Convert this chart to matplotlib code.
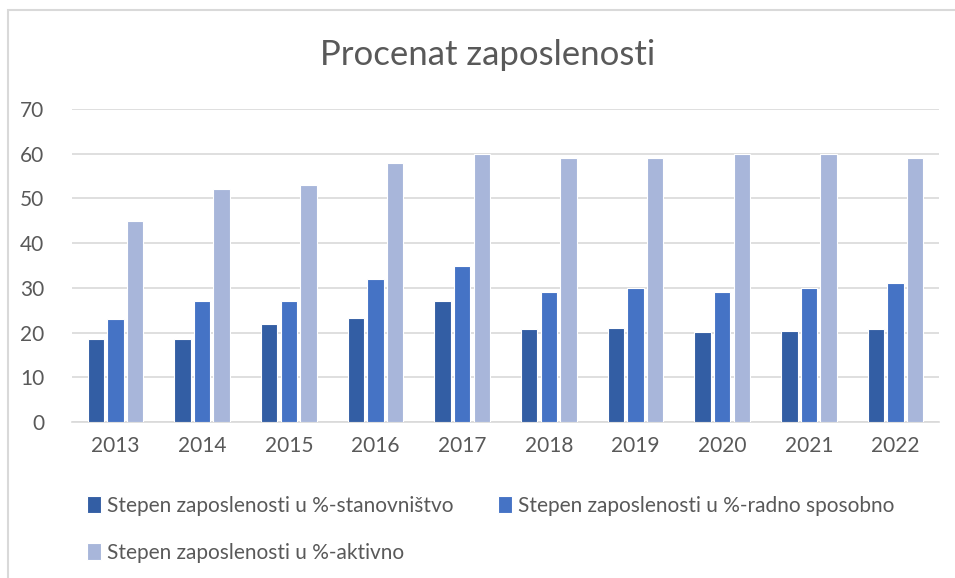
import matplotlib.pyplot as plt
import numpy as np
from matplotlib.patches import Rectangle

years = ["2013", "2014", "2015", "2016", "2017", "2018", "2019", "2020", "2021", "2022"]
stanovnistvo = [18.5, 18.6, 22.0, 23.2, 27.1, 20.8, 21.1, 20.2, 20.4, 20.9]
radno_sposobno = [23, 27, 27, 32, 35, 29, 30, 29, 30, 31]
aktivno = [45, 52, 53, 58, 60, 59, 59, 60, 60, 59]
series_names = ["Stepen zaposlenosti u %-stanovništvo",
                "Stepen zaposlenosti u %-radno sposobno",
                "Stepen zaposlenosti u %-aktivno"]
colors = ["#335EA4", "#4573C5", "#A8B6DA"]

plt.rcParams['font.family'] = ['Lato', 'DejaVu Sans']

W, H = 955, 578
fig = plt.figure(figsize=(W / 100, H / 100), dpi=100)
ax = fig.add_axes([72 / W, 1 - 422 / H, (939 - 72) / W, (422 - 109) / H])

# chart border
fig.patches.append(Rectangle((8 / W, -0.1), 1.1, 1 - 10 / H + 0.1, transform=fig.transFigure,
                             fill=False, edgecolor="#D9D9D9", linewidth=1.5))

x = np.arange(len(years))
step = 0.226
bw = 0.19
for i, (vals, c, name) in enumerate(zip([stanovnistvo, radno_sposobno, aktivno], colors, series_names)):
    ax.bar(x + (i - 1) * step, vals, width=bw, color=c, edgecolor="white", linewidth=0.8,
           label=name, zorder=3)

ax.set_ylim(0, 70)
ax.set_xlim(-0.5, len(years) - 0.5)
ax.set_yticks(range(0, 71, 10))
ax.set_xticks(x)
ax.set_xticklabels(years)
ax.grid(axis="y", color="#D9D9D9", linewidth=1.2, zorder=0)
ax.set_axisbelow(True)
for s in ["top", "right", "left"]:
    ax.spines[s].set_visible(False)
ax.spines["bottom"].set_color("#D9D9D9")
ax.spines["bottom"].set_linewidth(1.2)
ax.tick_params(axis="both", length=0, labelsize=15, labelcolor="#595959")
ax.tick_params(axis="y", pad=20)
ax.tick_params(axis="x", pad=10)

fig.text(488 / W, 1 - 55 / H, "Procenat zaposlenosti", ha="center", va="center",
         fontsize=25, color="#595959")

handles, labels = ax.get_legend_handles_labels()
order = [0, 2, 1]
leg = fig.legend([handles[i] for i in order], [labels[i] for i in order],
                 loc="upper left", bbox_to_anchor=(68 / W, 1 - 477 / H),
                 ncol=2, frameon=False, fontsize=15, labelcolor="#595959",
                 handlelength=0.7, handleheight=0.9, handletextpad=0.25,
                 columnspacing=2.15, labelspacing=1.3)

fig.savefig("out.png", dpi=100)
